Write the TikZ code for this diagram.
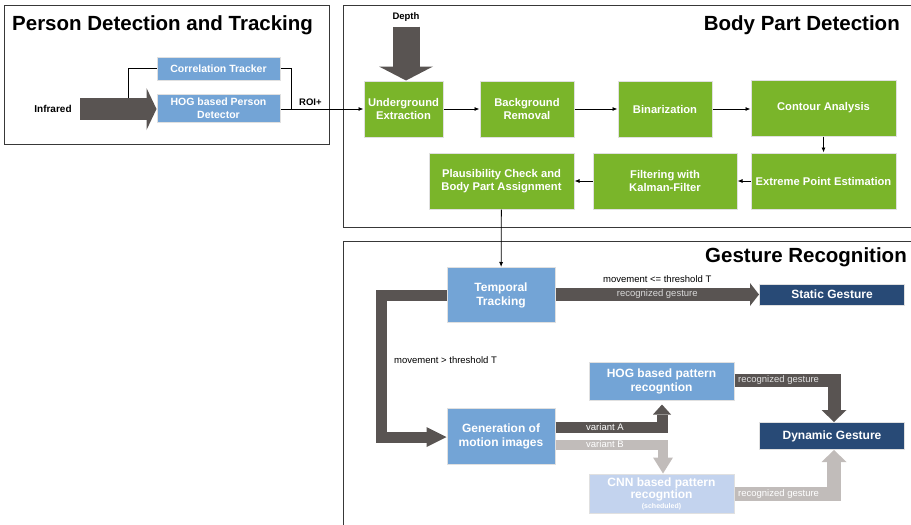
\documentclass[tikz,border=0pt]{standalone}
\usepackage{fontspec}
\setmainfont{Liberation Sans}
\usetikzlibrary{arrows.meta}

\definecolor{pgreen}{HTML}{7AB52A}
\definecolor{pblue}{HTML}{73A4D6}
\definecolor{pnavy}{HTML}{284A76}
\definecolor{plight}{HTML}{C3D3EE}
\definecolor{bdark}{HTML}{595452}
\definecolor{blight}{HTML}{C1BCBA}

\begin{document}
\begin{tikzpicture}[x=1pt,y=-1pt,>={Latex[length=5pt,width=4pt]},
    frame/.style={draw=black!78,line width=1pt},
    title/.style={font=\bfseries\fontsize{20.5}{24}\selectfont,inner sep=0pt},
    lbl/.style={font=\fontsize{9.5}{10}\selectfont,inner sep=0pt},
    blbl/.style={font=\bfseries\fontsize{10}{12}\selectfont,inner sep=0pt},
    box/.style={draw=black!12,line width=1pt,text=white,align=center,inner sep=2pt},
    gbox/.style={box,fill=pgreen,font=\bfseries\fontsize{11.2}{13}\selectfont,minimum height=56pt},
    pbox/.style={box,fill=pblue,font=\bfseries\fontsize{10.5}{13}\selectfont,minimum width=123pt},
    bbox/.style={box,fill=pblue,font=\bfseries\fontsize{12}{14}\selectfont},
    nbox/.style={box,fill=pnavy,font=\bfseries\fontsize{12}{14}\selectfont,minimum width=145pt},
    headed/.style 2 args={-{Triangle[width=#1,length=#2,line width=0pt]}},
    link/.style={draw=black,line width=0.8pt}]
    \useasboundingbox (0,0) rectangle (911,525);
    \clip (0,0) rectangle (911,525);
    % panel frames
    \draw[frame] (4.5,5) rectangle (329,144);
    \draw[frame] (343,5) rectangle (911,227);
    \draw[frame] (343,241) rectangle (911,540);
    \node[title,anchor=west] (t1) at (12,25) {Person Detection and Tracking};
    \node[title,anchor=east] (t2) at (900,25) {Body Part Detection};
    \node[title,anchor=east] (t3) at (907,257) {Gesture Recognition};
    % person detection
    \node[blbl] (ir) at (53,109) {Infrared};
    \node[pbox,minimum height=23pt] (corr) at (218.5,68.5) {Correlation Tracker};
    \node[pbox,minimum height=28pt] (hogp) at (218.5,108) {HOG based Person\\Detector};
    \coordinate (irs) at (80,109);
    \coordinate (split) at (128,98);
    \coordinate (join) at (291,109);
    \draw[draw=bdark,line width=22pt,headed={42pt}{10pt}] (irs) -- (irs -| hogp.west);
    \draw[link] (split) |- (corr.west);
    \draw[link] (corr.east) -| (join);
    % body part detection
    \node[gbox,minimum width=79pt] (ue) at (403.5,109) {Underground\\Extraction};
    \node[gbox,minimum width=94pt] (br) at (527,109) {Background\\Removal};
    \node[gbox,minimum width=94pt] (bin) at (665,109) {Binarization};
    \node[gbox,minimum width=145pt] (ca) at (823.5,108) {Contour Analysis};
    \node[gbox,minimum width=145pt] (pc) at (501.5,181) {Plausibility Check and\\Body Part Assignment};
    \node[gbox,minimum width=144pt] (fk) at (665,181) {Filtering with\\Kalman-Filter};
    \node[gbox,minimum width=145pt] (ep) at (823.5,181) {Extreme Point Estimation};
    \node[blbl,font=\bfseries\fontsize{9.5}{11}\selectfont] (depth) at (406,17) {Depth};
    \draw[->,link] (hogp.east |- join) -- (join -| ue.west) node[pos=0.36,above=3pt,blbl,font=\bfseries\fontsize{9.5}{11}\selectfont] {ROI+};
    \draw[draw=bdark,line width=27pt,headed={54pt}{14pt},shorten <=5pt] (depth.south) -- (depth.south |- ue.north);
    \draw[->,link] (ue) -- (br);
    \draw[->,link] (br) -- (bin);
    \draw[->,link] (bin.east) -- (bin.east -| ca.west);
    \draw[->,link] (ca) -- (ep);
    \draw[->,link] (ep) -- (fk);
    \draw[->,link] (fk) -- (pc);
    % gesture recognition
    \node[bbox,minimum width=108pt,minimum height=55pt] (tt) at (501,295) {Temporal\\Tracking};
    \node[nbox,minimum height=21pt] (sg) at (832,294.5) {Static Gesture};
    \node[bbox,minimum width=108pt,minimum height=56pt] (gen) at (501,436) {Generation of\\motion images};
    \node[bbox,minimum width=145pt,minimum height=38pt] (hogr) at (661.5,381) {HOG based pattern\\recogntion};
    \node[bbox,fill=plight,minimum width=145pt,minimum height=39pt,font=\bfseries\fontsize{12}{12.5}\selectfont] (cnn) at (661.5,493.5) {CNN based pattern\\recogntion\\[-3pt]{\fontsize{7}{8}\selectfont (scheduled)}};
    \node[nbox,minimum height=27pt] (dg) at (832,436) {Dynamic Gesture};
    \draw[->,link] (pc) -- (tt);
    \coordinate (lt) at (381,295);
    \coordinate (lb) at (381,437);
    \coordinate (va) at (662,427.5);
    \coordinate (vb) at (663,444.5);
    \coordinate (ra) at (834,380);
    \coordinate (rb) at (834,494);
    \draw[draw=bdark,line width=13pt,headed={23pt}{9pt}] (tt.east |- sg) -- (sg.west)
      node[pos=0.5,lbl,text=black!15] {recognized gesture}
      node[pos=0.5,lbl,yshift=15pt] {movement <= threshold T};
    \draw[draw=bdark,line width=11pt,headed={20pt}{20pt}] (tt.west) -- (lt) -- (lb) -- (lb -| gen.west);
    \node[lbl,anchor=west] (mv) at (394,360) {movement > threshold T};
    \draw[draw=bdark,line width=11pt,headed={18pt}{10pt},shorten >=4pt] (gen.east |- va) -- (va) -- (va |- hogr.south);
    \draw[draw=blight,line width=10pt,headed={20pt}{16pt}] (gen.east |- vb) -- (vb) -- (vb |- cnn.north);
    \node[lbl,text=white,anchor=west] (la) at (586,427.5) {variant A};
    \node[lbl,text=white,anchor=west] (lb2) at (586,444.5) {variant B};
    \draw[draw=bdark,line width=13pt,headed={25pt}{12pt}] (hogr.east |- ra) -- (ra) -- (ra |- dg.north);
    \draw[draw=blight,line width=14pt,headed={25pt}{12pt}] (cnn.east |- rb) -- (rb) -- (rb |- dg.south);
    \node[lbl,text=black!12,anchor=west] (lr1) at (738,380) {recognized gesture};
    \node[lbl,text=white,anchor=west] (lr2) at (738,494) {recognized gesture};
\end{tikzpicture}
\end{document}
